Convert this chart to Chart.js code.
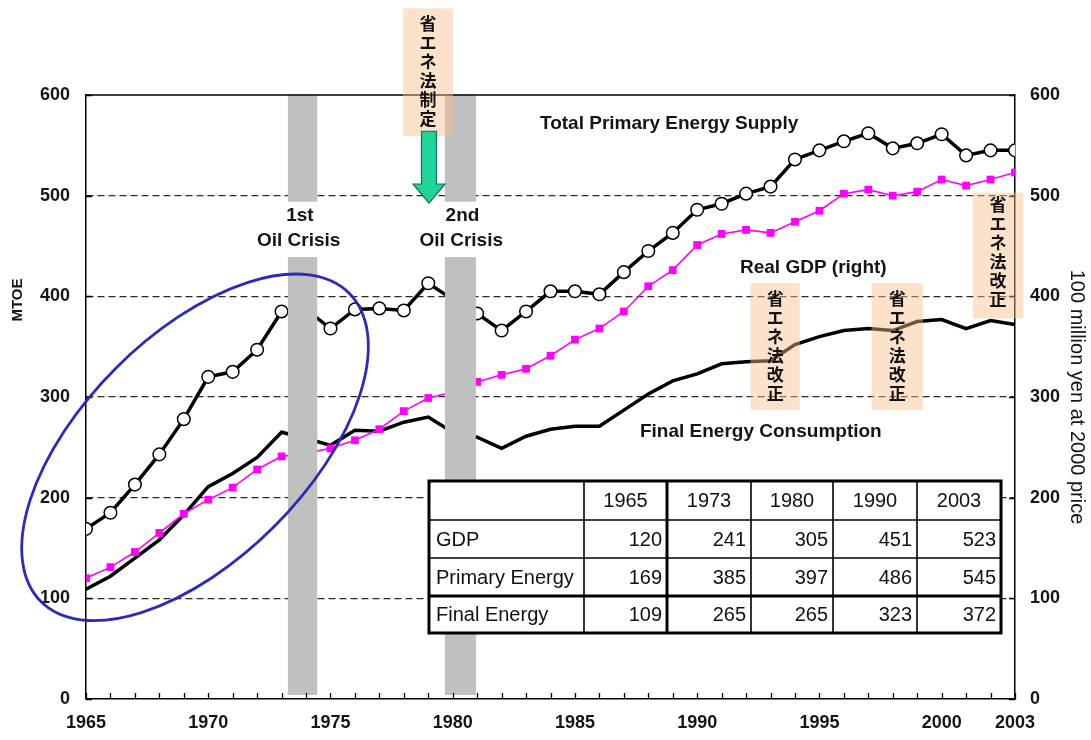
<!DOCTYPE html>
<html>
<head>
<meta charset="utf-8">
<script src="https://cdn.jsdelivr.net/npm/chart.js@4.4.0/dist/chart.umd.min.js"></script>
<style>
  html, body { margin: 0; padding: 0; background: #fff; }
  #wrap { width: 1091px; height: 740px; position: relative; }
</style>
</head>
<body>
<div id="wrap"><canvas id="c" width="1091" height="740"></canvas></div>
<script>
// ---- data -------------------------------------------------------------
const years = [1965, 1966, 1967, 1968, 1969, 1970, 1971, 1972, 1973, 1974,
               1975, 1976, 1977, 1978, 1979, 1980, 1981, 1982, 1983, 1984,
               1985, 1986, 1987, 1988, 1989, 1990, 1991, 1992, 1993, 1994,
               1995, 1996, 1997, 1998, 1999, 2000, 2001, 2002, 2003];

// Total primary energy supply (MTOE)
const primaryEnergy = [169, 185, 213, 243, 278, 320, 325, 347, 385, 387,
                       368, 387, 388, 386, 413, 397, 383, 366, 385, 405,
                       405, 402, 424, 445, 463, 486, 492, 502, 509, 536,
                       545, 554, 562, 547, 552, 561, 540, 545, 545];

// Real GDP (100 million yen at 2000 price, right axis)
const realGDP = [120, 131, 146, 165, 184, 198, 210, 228, 241, 244,
                 249, 257, 268, 286, 299, 305, 315, 322, 328, 341,
                 357, 368, 385, 410, 426, 451, 462, 466, 463, 474,
                 485, 502, 506, 500, 504, 516, 510, 516, 523];

// Final energy consumption (MTOE)
const finalEnergy = [109, 122, 140, 158, 183, 211, 224, 240, 265, 259,
                     252, 267, 266, 275, 280, 265, 260, 249, 261, 268,
                     271, 271, 287, 303, 316, 323, 333, 335, 336, 352,
                     360, 366, 368, 366, 375, 377, 368, 376, 372];

const xTickYears = [1965, 1970, 1975, 1980, 1985, 1990, 1995, 2000, 2003];
const yTicks = [0, 100, 200, 300, 400, 500, 600];

// summary table
const tableYears = [1965, 1973, 1980, 1990, 2003];
const tableRowNames = ['GDP', 'Primary Energy', 'Final Energy'];
const tableRowSeries = [realGDP, primaryEnergy, finalEnergy];

// oil crisis periods (years)
const crisisSpans = [[1973.26, 1974.46], [1979.68, 1980.95]];
const crisisLabels = [['1st', 'Oil Crisis'], ['2nd', 'Oil Crisis']];

// energy conservation law notes: enactment and revisions
const lawEnact = '省エネ法制定';
const lawRevise = '省エネ法改正';

// ---- styling helpers ---------------------------------------------------
const LATIN = '"Liberation Sans", Arial, Helvetica, sans-serif';
const CJK = '"Noto Sans CJK JP", "Noto Sans CJK SC", sans-serif';
const INK = '#151515';

const xy = arr => years.map((yr, i) => ({ x: yr, y: arr[i] }));

// annotation geometry in axis units (years / left-axis values)
const bar = { bottom: 4, gapLow: 439, gapHigh: 494, top: 600 };
const notes = [
  { text: lawEnact, x0: 1977.97, x1: 1980.01, y0: 686, y1: 559, first: 17 },
  { text: lawRevise, x0: 1992.18, x1: 1994.2, y0: 413, y1: 287, first: 292 },
  { text: lawRevise, x0: 1997.13, x1: 1999.24, y0: 413, y1: 287, first: 292 },
  { text: lawRevise, x0: 2001.27, x1: 2003.34, y0: 503, y1: 378, first: 198 }
];
const arrow = { x: 1979.03, top: 564, head: 511.6, tip: 492.7 };
const oval = { x: 1969.46, y: 250, rx: 218, ry: 112, rot: -Math.PI / 4 };

const decorations = {
  id: 'decorations',
  afterDatasetsDraw(chart) {
    const { ctx, chartArea: a, scales } = chart;
    const px = v => scales.x.getPixelForValue(v);
    const py = v => scales.y.getPixelForValue(v);
    ctx.save();

    // grey oil-crisis bands, split around their captions
    ctx.fillStyle = '#c0c0c0';
    crisisSpans.forEach(([s, e]) => {
      const x0 = px(s), w = px(e) - x0;
      ctx.fillRect(x0, py(bar.top), w, py(bar.gapHigh) - py(bar.top));
      ctx.fillRect(x0, py(bar.gapLow), w, py(bar.bottom) - py(bar.gapLow));
    });

    // frame top edge
    ctx.strokeStyle = '#000';
    ctx.lineWidth = 1.5;
    ctx.beginPath();
    ctx.moveTo(a.left, a.top);
    ctx.lineTo(a.right, a.top);
    ctx.stroke();

    // inward tick marks
    ctx.lineWidth = 1.3;
    ctx.beginPath();
    years.forEach(yr => {
      const X = Math.round(px(yr)) + 0.5;
      ctx.moveTo(X, a.bottom);
      ctx.lineTo(X, a.bottom - 6);
    });
    yTicks.forEach(v => {
      const Y = Math.round(py(v)) + 0.5;
      ctx.moveTo(a.left, Y); ctx.lineTo(a.left + 6, Y);
      ctx.moveTo(a.right, Y); ctx.lineTo(a.right - 6, Y);
    });
    ctx.stroke();

    // blue oval round the high-growth years
    ctx.strokeStyle = '#2b2bb8';
    ctx.lineWidth = 2.8;
    ctx.beginPath();
    ctx.ellipse(px(oval.x), py(oval.y), oval.rx, oval.ry, oval.rot, 0, Math.PI * 2);
    ctx.stroke();

    // text labels
    ctx.fillStyle = INK;
    ctx.textBaseline = 'middle';
    ctx.font = 'bold 19px ' + LATIN;
    ctx.textAlign = 'center';
    const crisisX = [1973.75, 1980.4];
    crisisLabels.forEach((lines, i) => {
      ctx.fillText(lines[0], px(crisisX[i]), py(480));
      ctx.fillText(lines[1], px(crisisX[i] - 0.05), py(455));
    });
    ctx.textAlign = 'left';
    ctx.fillText('Total Primary Energy Supply', px(1983.57), py(571));
    ctx.fillText('Real GDP (right)', px(1991.75), py(428));
    ctx.fillText('Final Energy Consumption', px(1987.66), py(265));

    ctx.restore();
  },
  afterDraw(chart) {
    const { ctx, chartArea: a, scales } = chart;
    const px = v => scales.x.getPixelForValue(v);
    const py = v => scales.y.getPixelForValue(v);
    ctx.save();

    // peach law-note boxes with stacked vertical text
    notes.forEach(n => {
      const x0 = px(n.x0), x1 = px(n.x1), y0 = py(n.y0), y1 = py(n.y1);
      ctx.fillStyle = 'rgba(248, 190, 140, 0.45)';
      ctx.fillRect(x0, y0, x1 - x0, y1 - y0);
      ctx.fillStyle = '#111';
      ctx.font = 'bold 17px ' + CJK;
      ctx.textAlign = 'center';
      ctx.textBaseline = 'top';
      const cx = (x0 + x1) / 2;
      [...n.text].forEach((ch, i) => ctx.fillText(ch, cx, n.first + i * 19 - 2));
    });

    // green arrow under the enactment note
    const ax = px(arrow.x), t = py(arrow.top), hb = py(arrow.head), tip = py(arrow.tip);
    ctx.beginPath();
    ctx.moveTo(ax - 7.5, t);
    ctx.lineTo(ax + 7.5, t);
    ctx.lineTo(ax + 7.5, hb);
    ctx.lineTo(ax + 16, hb);
    ctx.lineTo(ax, tip);
    ctx.lineTo(ax - 16, hb);
    ctx.lineTo(ax - 7.5, hb);
    ctx.closePath();
    ctx.fillStyle = '#20d49c';
    ctx.fill();
    ctx.strokeStyle = '#0e6f55';
    ctx.lineWidth = 1.2;
    ctx.stroke();

    // summary table
    const colX = [429, 584, 667, 751, 833, 917, 1001];
    const rowY = [481, 520, 558, 596, 633];
    ctx.fillStyle = '#fff';
    ctx.fillRect(colX[0], rowY[0], colX[6] - colX[0], rowY[4] - rowY[0]);
    ctx.strokeStyle = '#000';
    const line = (x0, y0, x1, y1, w) => {
      ctx.lineWidth = w;
      ctx.beginPath(); ctx.moveTo(x0, y0); ctx.lineTo(x1, y1); ctx.stroke();
    };
    for (let i = 1; i < 6; i++) line(colX[i], rowY[0], colX[i], rowY[4], i === 2 ? 3 : 1.6);
    for (let j = 1; j < 4; j++) line(colX[0], rowY[j], colX[6], rowY[j], j === 3 ? 3 : 1.6);
    ctx.lineWidth = 3;
    ctx.strokeRect(colX[0], rowY[0], colX[6] - colX[0], rowY[4] - rowY[0]);

    ctx.fillStyle = '#111';
    ctx.font = '20px ' + LATIN;
    ctx.textBaseline = 'middle';
    ctx.textAlign = 'center';
    tableYears.forEach((yr, i) => {
      ctx.fillText(String(yr), (colX[i + 1] + colX[i + 2]) / 2, (rowY[0] + rowY[1]) / 2 + 1);
    });
    tableRowNames.forEach((name, r) => {
      const cy = (rowY[r + 1] + rowY[r + 2]) / 2 + 1;
      ctx.save();
      ctx.beginPath();
      ctx.rect(colX[0], rowY[r + 1], colX[1] - colX[0], rowY[r + 2] - rowY[r + 1]);
      ctx.clip();
      ctx.textAlign = 'left';
      ctx.fillText(name, colX[0] + 7, cy);
      ctx.restore();
      ctx.textAlign = 'right';
      tableYears.forEach((yr, i) => {
        const v = tableRowSeries[r][years.indexOf(yr)];
        ctx.fillText(String(v), colX[i + 2] - 5, cy);
      });
    });

    // axis titles
    ctx.fillStyle = INK;
    ctx.textAlign = 'center';
    ctx.textBaseline = 'middle';
    ctx.save();
    ctx.translate(18, 300);
    ctx.rotate(-Math.PI / 2);
    ctx.font = 'bold 15px ' + LATIN;
    ctx.fillText('MTOE', 0, 0);
    ctx.restore();
    ctx.save();
    ctx.translate(1077, (a.top + a.bottom) / 2);
    ctx.rotate(Math.PI / 2);
    ctx.font = '20px ' + LATIN;
    ctx.fillText('100 million yen at 2000 price', 0, 0);
    ctx.restore();

    ctx.restore();
  }
};

const tickFont = { family: LATIN, size: 18, weight: 'bold' };

new Chart(document.getElementById('c'), {
  type: 'line',
  data: {
    datasets: [
      {
        label: 'Real GDP (right)',
        data: xy(realGDP),
        yAxisID: 'y2',
        borderColor: '#ff00ff',
        backgroundColor: '#ff00ff',
        borderWidth: 1.6,
        pointStyle: 'rect',
        pointRadius: 5.5,
        pointBorderWidth: 0,
        pointBackgroundColor: '#ff00ff',
        tension: 0
      },
      {
        label: 'Total Primary Energy Supply',
        data: xy(primaryEnergy),
        yAxisID: 'y',
        borderColor: '#000',
        borderWidth: 3.5,
        pointStyle: 'circle',
        pointRadius: 6.3,
        pointBackgroundColor: '#fff',
        pointBorderColor: '#000',
        pointBorderWidth: 1.5,
        tension: 0
      },
      {
        label: 'Final Energy Consumption',
        data: xy(finalEnergy),
        yAxisID: 'y',
        borderColor: '#000',
        borderWidth: 3.5,
        pointRadius: 0,
        tension: 0
      }
    ]
  },
  options: {
    responsive: false,
    animation: false,
    devicePixelRatio: 1,
    layout: { padding: { top: 95, left: 0, right: 0, bottom: 0 } },
    plugins: { legend: { display: false }, tooltip: { enabled: false } },
    scales: {
      x: {
        type: 'linear',
        min: 1965,
        max: 2003,
        afterBuildTicks: s => { s.ticks = xTickYears.map(v => ({ value: v })); },
        afterFit: s => { s.height = 41; },
        ticks: {
          autoSkip: false, maxRotation: 0, padding: 13,
          color: INK, font: tickFont,
          callback: v => String(v)
        },
        grid: { display: false, drawTicks: false },
        border: { display: true, color: '#000', width: 1.5 }
      },
      y: {
        position: 'left',
        min: 0,
        max: 600,
        afterBuildTicks: s => { s.ticks = yTicks.map(v => ({ value: v })); },
        afterFit: s => { s.width = 86; },
        ticks: { padding: 16, color: INK, font: tickFont },
        grid: {
          drawTicks: false,
          lineWidth: 1.3,
          color: c => (c.tick && (c.tick.value === 0 || c.tick.value === 600)) ? 'rgba(0,0,0,0)' : '#2a2a2a'
        },
        border: { display: true, color: '#000', width: 1.5, dash: [7, 4] }
      },
      y2: {
        position: 'right',
        min: 0,
        max: 600,
        afterBuildTicks: s => { s.ticks = yTicks.map(v => ({ value: v })); },
        afterFit: s => { s.width = 76; },
        ticks: { padding: 15, color: INK, font: tickFont },
        grid: { display: false, drawTicks: false },
        border: { display: true, color: '#000', width: 1.5 }
      }
    }
  },
  plugins: [decorations]
});
</script>
</body>
</html>
